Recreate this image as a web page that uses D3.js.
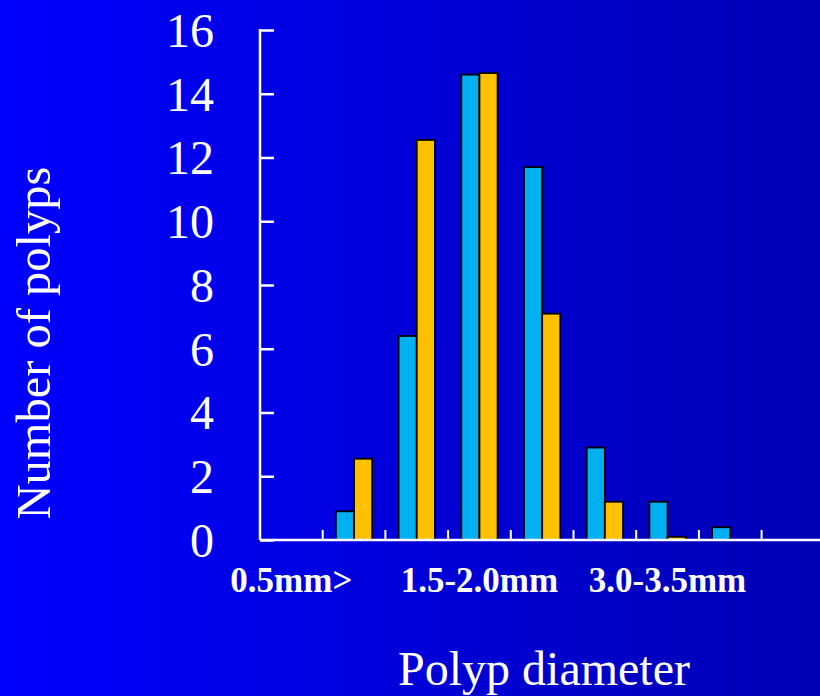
<!DOCTYPE html>
<html>
<head>
<meta charset="utf-8">
<script src="https://cdn.jsdelivr.net/npm/d3@7"></script>
<style>
  html, body { margin: 0; padding: 0; background: #0000ff; }
  svg { display: block; }
</style>
</head>
<body>
<svg id="chart" width="820" height="696"></svg>
<script>
// Diameter classes along the x axis (one band each)
const categories = ["0.5mm>", "0.5-1.0mm", "1.0-1.5mm", "1.5-2.0mm", "2.0-2.5mm",
                    "2.5-3.0mm", "3.0-3.5mm", "3.5-4.0mm", "4.0mm<"];
// Classes whose names are printed under the axis
const shownLabels = ["0.5mm>", "1.5-2.0mm", "3.0-3.5mm"];
// Number of polyps in each class, two groups
const seriesNames = ["groupA", "groupB"];
const groupA = [0, 0.9, 6.4, 14.6, 11.7, 2.9, 1.2, 0.4, 0];
const groupB = [0, 2.55, 12.55, 14.65, 7.1, 1.2, 0.1, 0, 0];
const yTicks = [0, 2, 4, 6, 8, 10, 12, 14, 16];
const seriesColors = ["#00b0f0", "#ffc000"];

const W = 820, H = 696;
const svg = d3.select("#chart");

// Horizontal blue background gradient
const defs = svg.append("defs");
const grad = defs.append("linearGradient").attr("id", "bg")
  .attr("x1", "0%").attr("x2", "100%").attr("y1", "0%").attr("y2", "0%");
grad.append("stop").attr("offset", "0%").attr("stop-color", "#0000ff");
grad.append("stop").attr("offset", "100%").attr("stop-color", "#0000b4");
svg.append("rect").attr("width", W).attr("height", H).attr("fill", "url(#bg)");

const x0 = 260, yBase = 540, yTop = 30, step = 62.7;
const x = d3.scaleBand().domain(categories)
  .range([x0, x0 + step * categories.length]).paddingInner(0).paddingOuter(0);
const xs = d3.scaleBand().domain(seriesNames)
  .range([0, x.bandwidth()]).paddingInner(0).paddingOuter(0.727);
const y = d3.scaleLinear().domain([0, 16]).range([yBase, yTop]);

const serif = "'Liberation Serif', 'Times New Roman', Times, serif";

// Bars
const rows = categories.map((c, i) => ({ cat: c, vals: [groupA[i], groupB[i]] }));
const g = svg.append("g");
rows.forEach(r => {
  r.vals.forEach((v, k) => {
    if (v <= 0) return;
    g.append("rect")
      .attr("x", x(r.cat) + xs(seriesNames[k]))
      .attr("y", y(v))
      .attr("width", xs.bandwidth())
      .attr("height", y(0) - y(v))
      .attr("fill", seriesColors[k])
      .attr("stroke", "#000")
      .attr("stroke-width", 1.8);
  });
});

// Y axis: line, inward ticks, labels
const yAxis = d3.axisRight(y).tickValues(yTicks).tickSize(14).tickFormat("");
const ya = svg.append("g").attr("transform", `translate(${x0},0)`).call(yAxis);
ya.select(".domain").remove();
ya.selectAll(".tick line").attr("stroke", "#fff").attr("stroke-width", 2.5);
svg.append("line").attr("x1", x0).attr("x2", x0).attr("y1", yTop - 1).attr("y2", yBase)
  .attr("stroke", "#fff").attr("stroke-width", 2.5);

svg.append("g").selectAll("text").data(yTicks).join("text")
  .attr("x", 214).attr("y", d => y(d))
  .attr("dy", "0.35em")
  .attr("text-anchor", "end")
  .attr("font-family", serif).attr("font-size", 48).attr("fill", "#fff")
  .text(d => d);

// X axis line with upward ticks at band boundaries
svg.append("line").attr("x1", x0).attr("x2", W).attr("y1", yBase).attr("y2", yBase)
  .attr("stroke", "#fff").attr("stroke-width", 2.5);
svg.append("g").selectAll("line").data(categories.slice(1)).join("line")
  .attr("x1", d => x(d)).attr("x2", d => x(d))
  .attr("y1", yBase).attr("y2", yBase - 10)
  .attr("stroke", "#fff").attr("stroke-width", 2);

// Category labels
svg.append("g").selectAll("text").data(shownLabels).join("text")
  .attr("x", d => x(d) + x.bandwidth() / 2)
  .attr("y", 592)
  .attr("text-anchor", "middle")
  .attr("font-family", serif).attr("font-weight", "bold").attr("font-size", 35)
  .attr("fill", "#fff")
  .text(d => d);

// Axis titles
svg.append("text")
  .attr("x", 544).attr("y", 685)
  .attr("text-anchor", "middle")
  .attr("font-family", serif).attr("font-size", 48).attr("fill", "#fff")
  .text("Polyp diameter");

svg.append("text")
  .attr("transform", "translate(50,343) rotate(-90)")
  .attr("text-anchor", "middle")
  .attr("font-family", serif).attr("font-size", 48.5).attr("fill", "#fff")
  .text("Number of polyps");
</script>
</body>
</html>
